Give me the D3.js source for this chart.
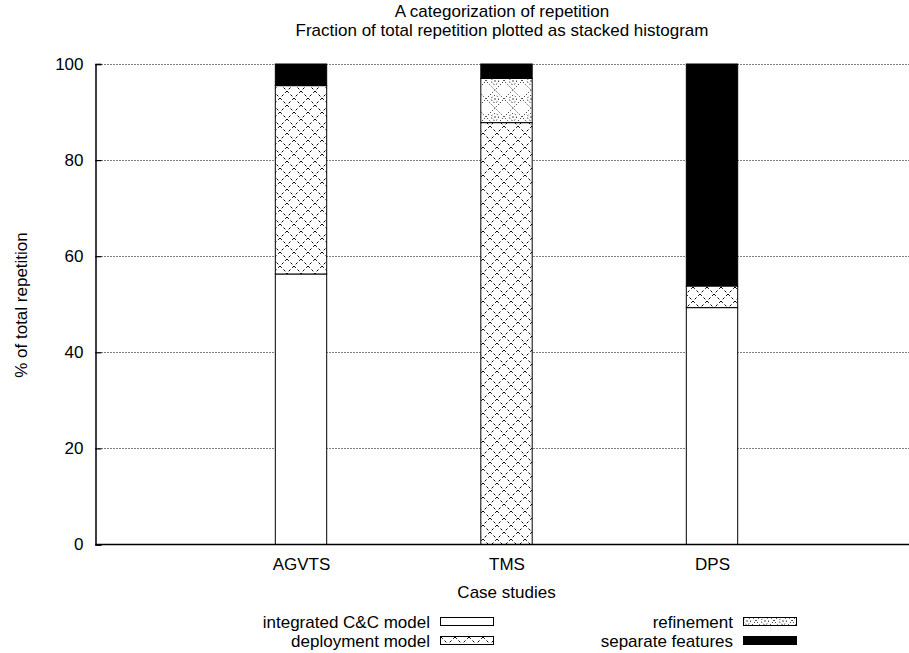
<!DOCTYPE html>
<html>
<head>
<meta charset="utf-8">
<script src="https://cdn.jsdelivr.net/npm/d3@7/dist/d3.min.js"></script>
<style>
  html, body { margin: 0; padding: 0; background: #fff; }
  svg { display: block; }
  text { font-family: "Liberation Sans", Arial, Helvetica, sans-serif; font-size: 17px; fill: #000; }
</style>
</head>
<body>
<script>
// Case studies and the share of repetition in each category (percent)
const categories = ["AGVTS", "TMS", "DPS"];
const integratedModel = [56.3, 0, 49.3];
const deploymentModel = [39.2, 87.8, 4.5];
const refinement = [0, 9.2, 0];
const separateFeatures = [4.5, 3.0, 46.2];

const seriesNames = ["integrated C&C model", "deployment model", "refinement", "separate features"];
const yTicks = [0, 20, 40, 60, 80, 100];

const W = 909, H = 653;
const margin = { left: 95.5, top: 64, bottom: 544.5 };

const svg = d3.select("body").append("svg").attr("width", W).attr("height", H);
const defs = svg.append("defs");

// Crosshatch of dashed diagonals
const p1 = defs.append("pattern").attr("id", "pat-deploy").attr("patternUnits", "userSpaceOnUse")
  .attr("width", 14).attr("height", 14);
p1.append("rect").attr("width", 14).attr("height", 14).attr("fill", "#fff");
p1.append("path").attr("d", "M0,0 L14,14 M14,0 L0,14")
  .attr("stroke", "#000").attr("stroke-width", 1).attr("stroke-dasharray", "2.6,2.35").attr("fill", "none");

// Finer dotted lattice with rings
const p2 = defs.append("pattern").attr("id", "pat-refine").attr("patternUnits", "userSpaceOnUse")
  .attr("width", 18).attr("height", 18);
p2.append("rect").attr("width", 18).attr("height", 18).attr("fill", "#fff");
p2.append("path").attr("d", "M0,9 L9,0 L18,9 L9,18 Z")
  .attr("stroke", "#000").attr("stroke-width", 1).attr("stroke-dasharray", "1,2").attr("fill", "none");
p2.append("circle").attr("cx", 9).attr("cy", 9).attr("r", 3.5)
  .attr("stroke", "#000").attr("stroke-width", 1).attr("stroke-dasharray", "1,2").attr("fill", "none");
p2.append("rect").attr("x", 8.4).attr("y", 8.4).attr("width", 1.2).attr("height", 1.2).attr("fill", "#000");

const fills = ["#fff", "url(#pat-deploy)", "url(#pat-refine)", "#000"];

const x = d3.scaleLinear().domain([-1, 3]).range([margin.left, margin.left + 822]);
const y = d3.scaleLinear().domain([0, 100]).range([margin.bottom, margin.top]);
const barW = 0.25;

// Title
svg.append("text").attr("x", 502).attr("y", 17).attr("text-anchor", "middle")
  .text("A categorization of repetition");
svg.append("text").attr("x", 502).attr("y", 36).attr("text-anchor", "middle")
  .text("Fraction of total repetition plotted as stacked histogram");

// Dotted grid lines
svg.append("g").selectAll("line").data(yTicks.filter(d => d > 0)).join("line")
  .attr("x1", margin.left).attr("x2", W)
  .attr("y1", d => Math.round(y(d)) + 0.5).attr("y2", d => Math.round(y(d)) + 0.5)
  .attr("stroke", "#000").attr("stroke-width", 1).attr("stroke-dasharray", "1,2");

// Stacked bars
const rows = categories.map((c, i) => ({
  cat: c, idx: i,
  s0: integratedModel[i], s1: deploymentModel[i], s2: refinement[i], s3: separateFeatures[i]
}));
const stack = d3.stack().keys(["s0", "s1", "s2", "s3"]);
const layers = stack(rows);

const gBars = svg.append("g");
layers.forEach((layer, k) => {
  gBars.selectAll(null).data(layer.filter(d => d[1] - d[0] > 0)).join("rect")
    .attr("x", d => x(d.data.idx - barW / 2))
    .attr("width", x(barW) - x(0))
    .attr("y", d => y(d[1]))
    .attr("height", d => y(d[0]) - y(d[1]))
    .attr("fill", fills[k])
    .attr("stroke", "#000").attr("stroke-width", 1);
});

// Axes
const yAxis = d3.axisLeft(y).tickValues(yTicks).tickSize(-6).tickPadding(12).tickFormat(d3.format("d"));
const gy = svg.append("g").attr("transform", `translate(${margin.left},0)`).call(yAxis);
gy.select(".domain").attr("stroke-width", 1.5);
gy.selectAll(".tick line").attr("stroke-width", 1.2);
gy.selectAll("text").style("font-size", "17px");

const xAxis = d3.axisBottom(x).tickValues([0, 1, 2]).tickSize(0).tickPadding(13)
  .tickFormat(d => categories[d]);
const gx = svg.append("g").attr("transform", `translate(0,${margin.bottom})`).call(xAxis);
gx.select(".domain").attr("d", `M${margin.left},0H${W}`).attr("stroke-width", 1.5);
gx.selectAll("text").style("font-size", "17px");

// Axis titles
svg.append("text").attr("x", x(1)).attr("y", 598).attr("text-anchor", "middle").text("Case studies");
svg.append("text").attr("transform", "translate(27,305) rotate(-90)").attr("text-anchor", "middle")
  .text("% of total repetition");

// Legend in two columns below the plot
const legendPos = [
  { tx: 430, ty: 628 }, { tx: 430, ty: 647 },
  { tx: 733, ty: 628 }, { tx: 733, ty: 647 }
];
const legend = svg.append("g");
seriesNames.forEach((name, k) => {
  const p = legendPos[k];
  legend.append("text").attr("x", p.tx).attr("y", p.ty).attr("text-anchor", "end").text(name);
  legend.append("rect").attr("x", p.tx + 10.5).attr("y", p.ty - 10.5).attr("width", 53).attr("height", 8)
    .attr("fill", fills[k]).attr("stroke", "#000").attr("stroke-width", 1);
});
</script>
</body>
</html>
